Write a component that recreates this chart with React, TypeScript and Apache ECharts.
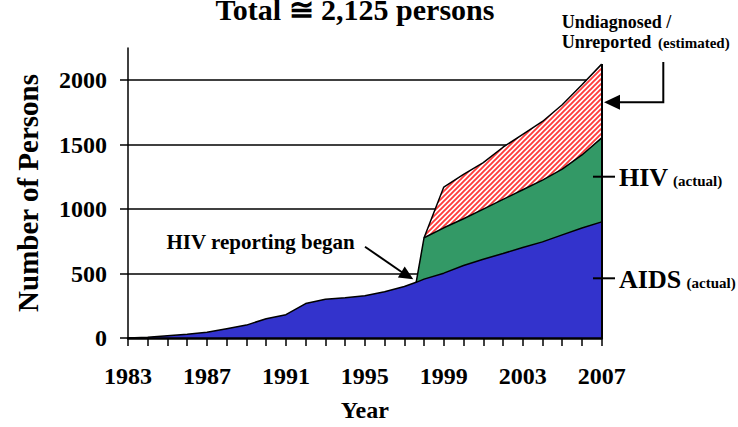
import React, { useEffect, useRef } from 'react';
import * as echarts from 'echarts';

// x positions (years); HIV reporting began part-way through 1997
const years = [
  1983, 1984, 1985, 1986, 1987, 1988, 1989, 1990, 1991, 1992, 1993, 1994, 1995,
  1996, 1997, 1997.6, 1998, 1999, 2000, 2001, 2002, 2003, 2004, 2005, 2006, 2007,
];
// persons living with AIDS (actual)
const aidsActual = [
  0, 5, 18, 30, 44, 72, 100, 150, 181, 267, 300, 313, 328, 359, 399, 432, 457,
  503, 562, 611, 656, 702, 746, 800, 853, 901,
];
// persons living with HIV, not AIDS (actual)
const hivActual: (number | null)[] = [
  null, null, null, null, null, null, null, null, null, null, null, null, null,
  null, null, 0, 321, 352, 363, 389, 419, 448, 479, 510, 567, 652,
];
// undiagnosed / unreported (estimated)
const undiagnosedEstimated: (number | null)[] = [
  null, null, null, null, null, null, null, null, null, null, null, null, null,
  null, null, null, 0, 316, 345, 360, 405, 430, 455, 500, 545, 572,
];
const yTickValues = [0, 500, 1000, 1500, 2000];
const xLabelYears = [1983, 1987, 1991, 1995, 1999, 2003, 2007];

const SERIF = '"Liberation Serif", "Times New Roman", serif';

function makeHatch(): HTMLCanvasElement {
  const c = document.createElement('canvas');
  c.width = 5;
  c.height = 5;
  const ctx = c.getContext('2d')!;
  ctx.fillStyle = '#ffffff';
  ctx.fillRect(0, 0, 5, 5);
  ctx.strokeStyle = '#ff3c3c';
  ctx.lineWidth = 1.9;
  ctx.beginPath();
  ctx.moveTo(-1, 6);
  ctx.lineTo(6, -1);
  ctx.moveTo(-1, 1);
  ctx.lineTo(1, -1);
  ctx.moveTo(4, 6);
  ctx.lineTo(6, 4);
  ctx.stroke();
  return c;
}

function txt(text: string, x: number, baseline: number, size: number, align: string = 'left') {
  return {
    type: 'text',
    x,
    y: baseline - 0.3375 * size,
    z: 100,
    style: {
      text,
      fontSize: size,
      fontWeight: 'bold',
      fontFamily: SERIF,
      fill: '#000',
      align,
      verticalAlign: 'middle',
    },
  };
}

export default function App() {
  const ref = useRef<HTMLDivElement>(null);
  useEffect(() => {
    if (!ref.current) return;
    const chart = echarts.init(ref.current, undefined, { renderer: 'svg' });

    const hivTop = years.map((_, i) => (hivActual[i] == null ? null : aidsActual[i] + (hivActual[i] as number)));
    const totalTop = years.map((_, i) =>
      undiagnosedEstimated[i] == null || hivTop[i] == null ? null : (hivTop[i] as number) + (undiagnosedEstimated[i] as number)
    );
    const pairs = (vals: (number | null)[]) =>
      years.map((y, i) => [y, vals[i]]).filter((p) => p[1] != null);

    const lastYear = years[years.length - 1];
    const lastTotal = totalTop[totalTop.length - 1] as number;

    const axisFont = { fontFamily: SERIF, fontWeight: 'bold' as const, color: '#000' };

    chart.setOption({
      animation: false,
      grid: { left: 128, right: 136.3, top: 48, bottom: 83.2 },
      xAxis: {
        type: 'value',
        min: 1983,
        max: 2007,
        interval: 1,
        z: 5,
        axisLine: { show: true, lineStyle: { color: '#000', width: 2.5 } },
        axisTick: { show: true, length: 8, lineStyle: { color: '#000', width: 1.5 } },
        splitLine: { show: false },
        axisLabel: {
          ...axisFont,
          fontSize: 24,
          margin: 26,
          formatter: (v: number) => (xLabelYears.includes(Math.round(v)) ? String(Math.round(v)) : ''),
        },
        name: 'Year',
        nameLocation: 'middle',
        nameGap: 60,
        nameTextStyle: { ...axisFont, fontSize: 24 },
      },
      yAxis: {
        type: 'value',
        min: 0,
        max: 2250,
        interval: 500,
        axisLine: { show: true, lineStyle: { color: '#000', width: 1.5 } },
        axisTick: { show: true, length: 8, customValues: yTickValues, lineStyle: { color: '#000', width: 1.5 } },
        axisLabel: {
          ...axisFont,
          fontSize: 24,
          margin: 21,
          customValues: yTickValues,
          formatter: (v: number) => (yTickValues.includes(v) ? String(v) : ''),
        },
        splitLine: { show: true, lineStyle: { color: '#000', width: 1.5 } },
        name: 'Number of Persons',
        nameLocation: 'middle',
        nameGap: 86,
        nameRotate: 90,
        nameTextStyle: { ...axisFont, fontSize: 29 },
      },
      series: [
        {
          name: 'Undiagnosed / Unreported (estimated)',
          type: 'line',
          z: 2,
          data: pairs(totalTop),
          showSymbol: false,
          symbol: 'none',
          lineStyle: { color: '#000', width: 1.5 },
          areaStyle: { color: { image: makeHatch(), repeat: 'repeat' }, opacity: 1 },
        },
        {
          name: 'HIV (actual)',
          type: 'line',
          z: 3,
          data: pairs(hivTop),
          showSymbol: false,
          symbol: 'none',
          lineStyle: { color: '#000', width: 1.5 },
          areaStyle: { color: '#339966', opacity: 1 },
        },
        {
          name: 'AIDS (actual)',
          type: 'line',
          z: 4,
          data: pairs(aidsActual),
          showSymbol: false,
          symbol: 'none',
          lineStyle: { color: '#000', width: 1.5 },
          areaStyle: { color: '#3333cc', opacity: 1 },
          markLine: {
            silent: true,
            symbol: ['none', 'none'],
            label: { show: false },
            lineStyle: { color: '#000', width: 2, type: 'solid' },
            data: [[{ coord: [lastYear, 0] }, { coord: [lastYear, lastTotal] }]],
          },
        },
      ],
      graphic: [
        txt('Total \u2245 2,125 persons', 355, 20, 30, 'center'),
        txt('Undiagnosed /', 561.7, 28.3, 18),
        txt('Unreported', 561.7, 48.3, 18),
        txt('(estimated)', 658, 48.3, 15),
        txt('HIV', 619, 186.5, 26),
        txt('(actual)', 673, 186, 15),
        txt('AIDS', 619, 288.3, 26),
        txt('(actual)', 686.5, 288, 15),
        txt('HIV reporting began', 166.5, 249.3, 21),
        {
          type: 'polyline',
          z: 100,
          shape: { points: [[663.3, 62], [663.3, 102.3], [618, 102.3]] },
          style: { stroke: '#000', lineWidth: 2, fill: null },
        },
        {
          type: 'polygon',
          z: 100,
          shape: { points: [[604, 102.3], [620, 94.8], [620, 109.8]] },
          style: { fill: '#000' },
        },
        {
          type: 'line',
          z: 100,
          shape: { x1: 365, y1: 246.7, x2: 402, y2: 272.3 },
          style: { stroke: '#000', lineWidth: 2 },
        },
        {
          type: 'polygon',
          z: 100,
          shape: { points: [[413.3, 279.3], [397.9, 277.6], [404.7, 266.5]] },
          style: { fill: '#000' },
        },
        {
          type: 'line',
          z: 100,
          shape: { x1: 593, y1: 176.7, x2: 615, y2: 176.7 },
          style: { stroke: '#000', lineWidth: 2 },
        },
        {
          type: 'line',
          z: 100,
          shape: { x1: 593, y1: 278.3, x2: 615, y2: 278.3 },
          style: { stroke: '#000', lineWidth: 2 },
        },
      ],
    });
    return () => chart.dispose();
  }, []);
  return (
    <div
      ref={ref}
      style={{ position: 'fixed', left: 0, top: 0, width: 738, height: 427, background: '#fff' }}
    />
  );
}
